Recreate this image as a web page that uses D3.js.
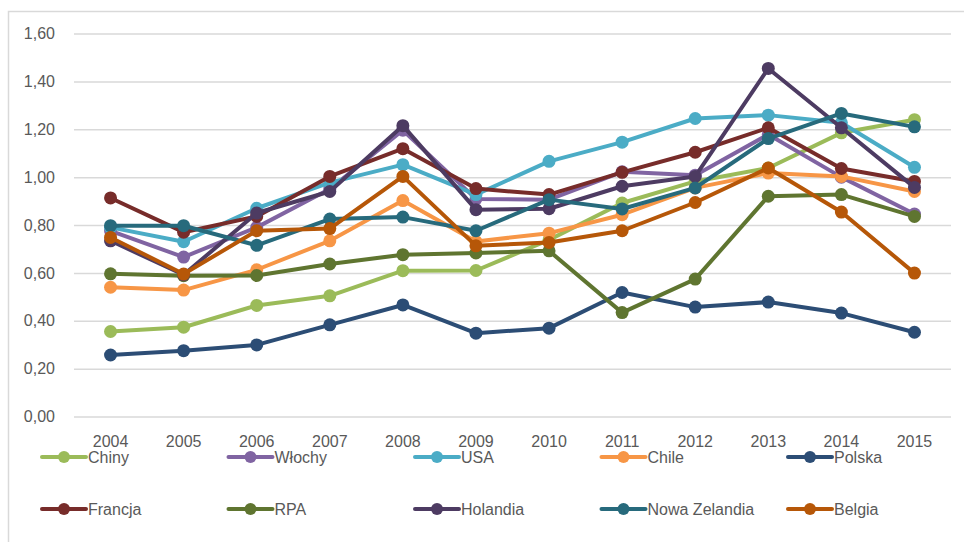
<!DOCTYPE html>
<html>
<head>
<meta charset="utf-8">
<script src="https://cdn.jsdelivr.net/npm/d3@7"></script>
<style>
	html, body { margin: 0; padding: 0; background: #fff; }
	svg { display: block; }
</style>
</head>
<body>
<svg id="chart" width="964" height="542"></svg>
<script>
"use strict";

//data
let years = ["2004", "2005", "2006", "2007", "2008", "2009", "2010", "2011", "2012", "2013", "2014", "2015"];
let y_ticks = [0, 0.2, 0.4, 0.6, 0.8, 1.0, 1.2, 1.4, 1.6];

let chiny = [0.355, 0.373, 0.464, 0.504, 0.609, 0.610, 0.738, 0.892, 0.982, 1.038, 1.185, 1.240];
let wlochy = [0.775, 0.666, 0.790, 0.950, 1.196, 0.909, 0.906, 1.022, 1.008, 1.178, 1.000, 0.846];
let usa = [0.790, 0.730, 0.870, 0.977, 1.052, 0.927, 1.066, 1.146, 1.245, 1.259, 1.227, 1.041];
let chile = [0.540, 0.528, 0.613, 0.734, 0.902, 0.731, 0.766, 0.843, 0.955, 1.017, 1.003, 0.940];
let polska = [0.257, 0.275, 0.299, 0.383, 0.466, 0.348, 0.369, 0.518, 0.457, 0.478, 0.432, 0.352];
let francja = [0.913, 0.770, 0.836, 1.003, 1.119, 0.952, 0.927, 1.020, 1.104, 1.206, 1.036, 0.982];
let rpa = [0.596, 0.588, 0.589, 0.637, 0.676, 0.683, 0.692, 0.434, 0.574, 0.920, 0.927, 0.836];
let holandia = [0.734, 0.592, 0.850, 0.940, 1.215, 0.864, 0.868, 0.962, 1.003, 1.454, 1.206, 0.957];
let nowa_zelandia = [0.797, 0.797, 0.715, 0.825, 0.833, 0.776, 0.906, 0.867, 0.955, 1.161, 1.266, 1.210];
let belgia = [0.748, 0.595, 0.776, 0.785, 1.003, 0.713, 0.727, 0.776, 0.894, 1.038, 0.854, 0.599];

let series_names = ["Chiny", "Włochy", "USA", "Chile", "Polska", "Francja", "RPA", "Holandia", "Nowa Zelandia", "Belgia"];
let series_values = [chiny, wlochy, usa, chile, polska, francja, rpa, holandia, nowa_zelandia, belgia];
let series_colors = ["#9bbb59", "#8064a2", "#4bacc6", "#f79646", "#2c4d75", "#772c2a", "#5f7530", "#4d3b62", "#276a7c", "#b65708"];

(function()
{
	let font = "'Liberation Sans', Arial, sans-serif";
	let text_color = "#595959";
	let grid_color = "#d9d9d9";

	let svg = d3.select("svg#chart");

	//outer frame, open to the right and bottom
	svg.append("rect")
		.attr("x", 8.5)
		.attr("y", 11.5)
		.attr("width", 1000)
		.attr("height", 600)
		.attr("fill", "none")
		.attr("stroke", grid_color)
		.attr("stroke-width", 1.5);

	let x = d3.scaleBand()
		.domain(years)
		.range([74, 951])
		.padding(0);

	let y = d3.scaleLinear()
		.domain([0, 1.6])
		.range([416.5, 33.5]);

	let fmt = function(v) { return d3.format(".2f")(v).replace(".", ","); };

	//horizontal gridlines + y labels
	let y_axis = d3.axisLeft(y)
		.tickValues(y_ticks)
		.tickFormat(fmt)
		.tickSize(-(951 - 74))
		.tickPadding(19);

	let gy = svg.append("g")
		.attr("transform", "translate(74,0)")
		.call(y_axis);
	gy.select(".domain").remove();
	gy.selectAll(".tick line")
		.attr("stroke", grid_color)
		.attr("stroke-width", 1.5);
	gy.selectAll(".tick text")
		.attr("fill", text_color)
		.attr("font-family", font)
		.attr("font-size", 16);

	//year labels
	let x_axis = d3.axisBottom(x)
		.tickSize(0)
		.tickPadding(0);

	let gx = svg.append("g")
		.attr("transform", "translate(0,436)")
		.call(x_axis);
	gx.select(".domain").remove();
	gx.selectAll(".tick text")
		.attr("fill", text_color)
		.attr("font-family", font)
		.attr("font-size", 16);

	let line_func = d3.line()
		.x(function(d, i) { return x(years[i]) + x.bandwidth() / 2; })
		.y(function(d) { return y(d); });

	//series lines and markers
	let plot = svg.append("g");
	for (let s = 0; s < series_names.length; ++s)
	{
		let g = plot.append("g");
		g.append("path")
			.attr("d", line_func(series_values[s]))
			.attr("fill", "none")
			.attr("stroke", series_colors[s])
			.attr("stroke-width", 4)
			.attr("stroke-linejoin", "round")
			.attr("stroke-linecap", "round");
		g.selectAll("circle")
			.data(series_values[s])
			.join("circle")
			.attr("cx", function(d, i) { return x(years[i]) + x.bandwidth() / 2; })
			.attr("cy", function(d) { return y(d); })
			.attr("r", 6.5)
			.attr("fill", series_colors[s]);
	}

	//legend, two rows of five
	let legend = svg.append("g");
	for (let s = 0; s < series_names.length; ++s)
	{
		let lx = 42 + (s % 5) * 186.5;
		let ly = s < 5 ? 457 : 509;
		let item = legend.append("g")
			.attr("transform", "translate(" + lx + "," + ly + ")");
		item.append("line")
			.attr("x1", 0)
			.attr("x2", 44)
			.attr("y1", 0)
			.attr("y2", 0)
			.attr("stroke", series_colors[s])
			.attr("stroke-width", 4)
			.attr("stroke-linecap", "round");
		item.append("circle")
			.attr("cx", 22)
			.attr("cy", 0)
			.attr("r", 6)
			.attr("fill", series_colors[s]);
		item.append("text")
			.attr("x", 46)
			.attr("y", 6)
			.attr("fill", text_color)
			.attr("font-family", font)
			.attr("font-size", 16)
			.text(series_names[s]);
	}
})();
</script>
</body>
</html>
